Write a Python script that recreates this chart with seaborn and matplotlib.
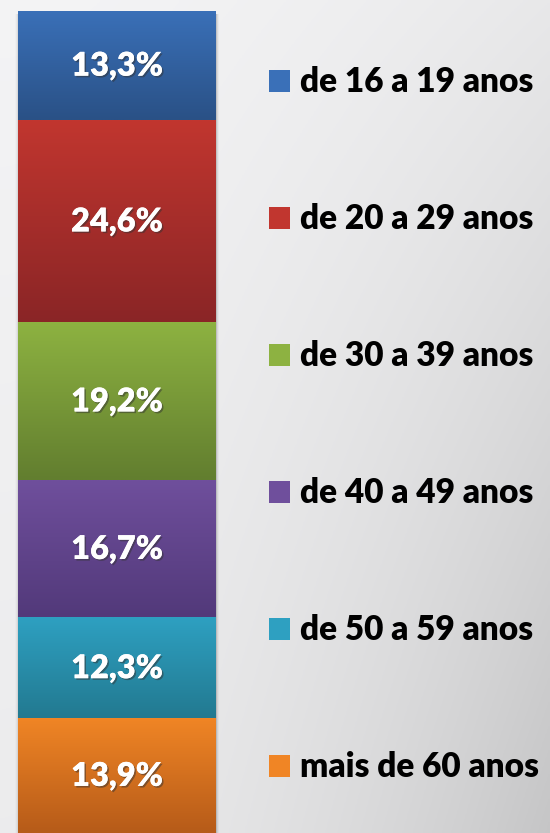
import matplotlib.pyplot as plt
import matplotlib.patheffects as pe
from matplotlib.patches import Patch
import numpy as np
import pandas as pd
import seaborn as sns

# Faixa etária dos usuários
categorias = ['de 16 a 19 anos', 'de 20 a 29 anos', 'de 30 a 39 anos',
              'de 40 a 49 anos', 'de 50 a 59 anos', 'mais de 60 anos']
valores = [13.3, 24.6, 19.2, 16.7, 12.3, 13.9]
rotulos = ['13,3%', '24,6%', '19,2%', '16,7%', '12,3%', '13,9%']
cores_topo = ['#3A70B8', '#C1362F', '#8DB241', '#6F4F9C', '#2EA0C1', '#F08525']
cores_base = ['#2A5186', '#8A2526', '#627E2F', '#52397A', '#227990', '#B65B19']

sns.set_style('white')
plt.rcParams['font.family'] = ['Lato', 'DejaVu Sans']

fig = plt.figure(figsize=(5.5, 8.33), dpi=100)

# background gradient
bg = fig.add_axes([0, 0, 1, 1])
xx, yy = np.meshgrid(np.linspace(0, 1, 200), np.linspace(0, 1, 300))
g = 0.955 - 0.15 * (xx ** 1.8) * (0.3 + 0.7 * yy) - 0.03 * yy
bg.imshow(np.dstack([g, g, g * 1.005]).clip(0, 1), aspect='auto',
          extent=[0, 1, 1, 0], zorder=0)
# soft shadow around the bar
for k, a in enumerate([0.10, 0.06, 0.03]):
    bg.add_patch(plt.Rectangle((216 / 550, 14 / 833), (k + 1) / 550, 1,
                               color='black', alpha=a, lw=0, zorder=1))
    bg.add_patch(plt.Rectangle((18 / 550 - (k + 1) / 550, 14 / 833), (k + 1) / 550, 1,
                               color='black', alpha=a * 0.5, lw=0, zorder=1))
bg.set_xlim(0, 1)
bg.set_ylim(1, 0)
bg.axis('off')

ax = fig.add_axes([18 / 550, 0, 198 / 550, 822 / 833])
ax.patch.set_alpha(0)

# stacked bar: bottom segment is the last category
df = pd.DataFrame({'cat': categorias, 'val': valores})
df['topo'] = df['val'][::-1].cumsum()[::-1]
df['base'] = df['topo'] - df['val']
df['x'] = 'total'

for i, row in df.iterrows():
    sns.barplot(data=df.iloc[[i]], x='x', y='topo', color=cores_topo[i],
                width=0.8, ax=ax, zorder=2)

# gradient fill for each segment
for i, row in df.iterrows():
    c0 = np.array(plt.matplotlib.colors.to_rgb(cores_topo[i]))
    c1 = np.array(plt.matplotlib.colors.to_rgb(cores_base[i]))
    t = np.linspace(0, 1, 100)[:, None]
    img = (c0 * (1 - t) + c1 * t)[:, None, :]
    ax.imshow(img, aspect='auto', extent=[-0.4, 0.4, row['base'], row['topo']],
              zorder=3, interpolation='bilinear')
    ax.text(0, (row['base'] + row['topo']) / 2, rotulos[i], ha='center', va='center',
            color='white', fontsize=23.5, fontweight='heavy', zorder=5,
            path_effects=[pe.withSimplePatchShadow(offset=(1.2, -1.2),
                                                   shadow_rgbFace='#333333', alpha=0.5),
                          pe.Normal()])

ax.set_xlim(-0.4, 0.4)
ax.set_ylim(0, 100)
ax.axis('off')

handles = [Patch(facecolor=cores_topo[i], edgecolor='none', label=categorias[i])
           for i in range(len(categorias))]
leg = fig.legend(handles=handles, loc='upper left', bbox_to_anchor=(256 / 550, 1 - 53 / 833),
                 frameon=False, prop={'family': 'Lato', 'weight': 'heavy', 'size': 24},
                 handlelength=0.63, handleheight=0.63, handletextpad=0.3,
                 labelspacing=3.15, borderaxespad=0)
for txt in leg.get_texts():
    txt.set_color('black')

fig.savefig('out.png', dpi=100)
